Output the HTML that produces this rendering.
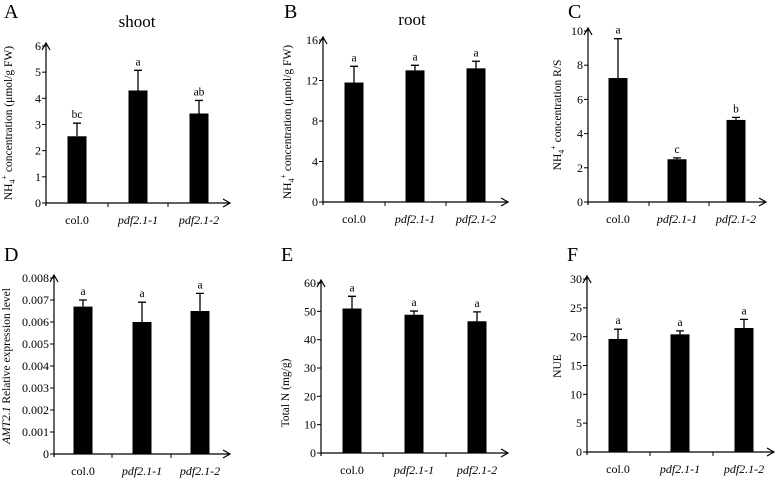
<!DOCTYPE html>
<html><head><meta charset="utf-8"><style>
body{margin:0;background:#fff}
svg{display:block;font-family:"Liberation Serif",serif}
</style></head><body>
<svg id="fig" width="776" height="483" viewBox="0 0 776 483" xmlns="http://www.w3.org/2000/svg"></svg>
<script>
const categories = ["col.0","pdf2.1-1","pdf2.1-2"];
const valuesA = [2.55,4.3,3.42], errA = [0.5,0.77,0.5], sigA = ["bc","a","ab"], ticksA = [0,1,2,3,4,5,6];
const valuesB = [11.8,13.0,13.2], errB = [1.6,0.5,0.7], sigB = ["a","a","a"], ticksB = [0,4,8,12,16];
const valuesC = [7.25,2.5,4.8], errC = [2.3,0.08,0.15], sigC = ["a","c","b"], ticksC = [0,2,4,6,8,10];
const valuesD = [0.0067,0.006,0.0065], errD = [0.0003,0.0009,0.0008], sigD = ["a","a","a"], ticksD = [0,0.001,0.002,0.003,0.004,0.005,0.006,0.007,0.008];
const valuesE = [51,48.8,46.5], errE = [4.3,1.3,3.3], sigE = ["a","a","a"], ticksE = [0,10,20,30,40,50,60];
const valuesF = [19.6,20.4,21.5], errF = [1.7,0.6,1.5], sigF = ["a","a","a"], ticksF = [0,5,10,15,20,25,30];

const NS="http://www.w3.org/2000/svg";
const svg=document.getElementById('fig');
function mk(tag,attrs,parent,txt){const e=document.createElementNS(NS,tag);for(const k in attrs)e.setAttribute(k,attrs[k]);if(txt!==undefined)e.textContent=txt;(parent||svg).appendChild(e);return e;}

const panels=[
 {id:'a',letter:'A',lx:4,ly:18,ax:46,y0:203,ytop:46,xend:230,centers:[77,138,199],ticksX:[108,168],v:valuesA,e:errA,s:sigA,t:ticksA,title:'shoot',tx:137,ty:27,ylab:'NH4',yx:12,yc:123},
 {id:'b',letter:'B',lx:284,ly:18,ax:323,y0:202,ytop:40,xend:508,centers:[354,415,476],ticksX:[385,446],v:valuesB,e:errB,s:sigB,t:ticksB,title:'root',tx:412,ty:25,ylab:'NH4',yx:291,yc:122},
 {id:'c',letter:'C',lx:568,ly:18,ax:588,y0:202,ytop:31,xend:766,centers:[618,677,736],ticksX:[649,709],v:valuesC,e:errC,s:sigC,t:ticksC,ylab:'RS',yx:561,yc:115},
 {id:'d',letter:'D',lx:4,ly:261,ax:54,y0:454,ytop:278,xend:230,centers:[83,142,200],ticksX:[112,171],v:valuesD,e:errD,s:sigD,t:ticksD,ylab:'AMT',yx:10,yc:366,dec:3},
 {id:'e',letter:'E',lx:281,ly:261,ax:321,y0:453,ytop:283,xend:508,centers:[352,414,477],ticksX:[383,446],v:valuesE,e:errE,s:sigE,t:ticksE,ylab:'Total N (mg/g)',yx:289,yc:393},
 {id:'f',letter:'F',lx:567,ly:261,ax:587,y0:452,ytop:279,xend:774,centers:[618,680,744],ticksX:[650,713],v:valuesF,e:errF,s:sigF,t:ticksF,ylab:'NUE',yx:561,yc:366}
];

panels.forEach(p=>{
 const g=mk('g',{});
 
 
 const tmax=p.t[p.t.length-1];
 const y=v=>p.y0-(v/tmax)*(p.y0-p.ytop);
 const L=mk('text',{x:p.lx,y:p.ly,'font-size':20},g,p.letter);
 
 
 if(p.title){const T=mk('text',{x:p.tx,y:p.ty,'font-size':17,'text-anchor':'middle'},g,p.title);
  
  }
 const ya=mk('path',{d:`M${p.ax} ${p.y0+3}V${p.ytop-3} M${p.ax-4} ${p.ytop+4}L${p.ax} ${p.ytop-3}L${p.ax+4} ${p.ytop+4}`,stroke:'#000','stroke-width':1.2,fill:'none'},g);
 
 
 const xa=mk('path',{d:`M${p.ax} ${p.y0}H${p.xend} M${p.xend-7} ${p.y0-4}L${p.xend} ${p.y0}L${p.xend-7} ${p.y0+4}`,stroke:'#000','stroke-width':1.2,fill:'none'},g);
 
 
 p.ticksX.forEach(tx=>mk('line',{x1:tx,x2:tx,y1:p.y0,y2:p.y0+4,stroke:'#000','stroke-width':1},g));
 p.t.forEach(tv=>{
  mk('line',{x1:p.ax-4,x2:p.ax,y1:y(tv),y2:y(tv),stroke:'#000','stroke-width':1},g);
  const lab=mk('text',{x:p.ax-5,y:y(tv)+4,'font-size':12,'text-anchor':'end'},g,p.dec&&tv!==0?tv.toFixed(p.dec):String(tv));
  
  
 });
 const yl=mk('text',{transform:`translate(${p.yx},${p.yc}) rotate(-90)`,'font-size':11.5,'text-anchor':'middle'},g);
 
 
 if(p.ylab==='NH4'){yl.innerHTML='NH<tspan font-size="8" dy="3">4</tspan><tspan font-size="8" dy="-8">+</tspan><tspan dy="5"> concentration (μmol/g FW)</tspan>';}
 else if(p.ylab==='RS'){yl.innerHTML='NH<tspan font-size="8" dy="3">4</tspan><tspan font-size="8" dy="-8">+</tspan><tspan dy="5"> concentration R/S</tspan>';}
 else if(p.ylab==='AMT'){yl.innerHTML='<tspan font-style="italic">AMT2.1</tspan> Relative expression level';}
 else yl.textContent=p.ylab;
 p.v.forEach((v,i)=>{
  const cx=p.centers[i];
  const b=mk('rect',{x:cx-9.5,y:y(v),width:19,height:p.y0-y(v),fill:'#000'},g);
  
  
  const top=y(v+p.e[i]);
  const eb=mk('path',{d:`M${cx} ${y(v)}V${top} M${cx-4} ${top}H${cx+4}`,stroke:'#000','stroke-width':1.3},g);
  
  
  const s=mk('text',{x:cx,y:top-5,'font-size':11.5,'text-anchor':'middle'},g,p.s[i]);
  
  
  const c=mk('text',{x:cx,y:p.y0+21,'font-size':12,'text-anchor':'middle','font-style':i?'italic':'normal'},g,categories[i]);
  
  
 });
});
</script>
</body></html>
